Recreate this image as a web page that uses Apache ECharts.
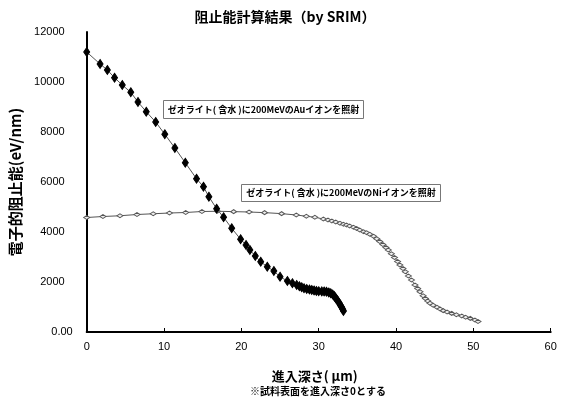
<!DOCTYPE html>
<html>
<head>
<meta charset="utf-8">
<script src="https://cdn.jsdelivr.net/npm/echarts@6/dist/echarts.min.js"></script>
<style>html,body{margin:0;padding:0;background:#fff}#c{width:561px;height:407px}</style>
</head>
<body>
<div id="c"></div>
<script>
// Data
const auDepth = [0, 1.73, 2.67, 3.6, 4.6, 5.7, 6.63, 7.7, 8.92, 10.1, 11.4, 12.75, 14.2, 15.1, 15.8, 16.8, 17.7, 18.75, 19.9, 20.6, 21.1, 21.8, 22.5, 23.35, 24.2, 25.0, 25.95, 26.6, 27.15, 27.5, 27.8, 28.1, 28.45, 28.8, 29.1, 29.4, 29.7, 30.0, 30.4, 30.7, 31.0, 31.3, 31.55, 31.8, 32.0, 32.15, 32.3, 32.5, 32.67, 32.8, 32.97, 33.1, 33.2];
const auStopping = [11200, 10720, 10480, 10170, 9880, 9590, 9200, 8810, 8400, 7910, 7360, 6770, 6130, 5810, 5410, 4930, 4590, 4150, 3710, 3480, 3280, 3040, 2810, 2610, 2440, 2210, 2040, 1950, 1880, 1830, 1790, 1750, 1720, 1700, 1680, 1660, 1640, 1630, 1625, 1620, 1610, 1580, 1550, 1500, 1440, 1380, 1310, 1230, 1150, 1070, 990, 910, 840];
const niDepth = [0, 2.1, 4.3, 6.5, 8.6, 10.7, 12.8, 14.9, 16.9, 19.0, 21.0, 23.0, 25.2, 27.1, 28.4, 29.5, 30.6, 31.2, 31.7, 32.2, 32.75, 33.2, 33.6, 34.0, 34.5, 34.9, 35.3, 35.8, 36.2, 36.6, 37.1, 37.5, 37.9, 38.3, 38.7, 39.0, 39.4, 39.8, 40.2, 40.5, 40.9, 41.2, 41.6, 42.0, 42.45, 42.8, 43.1, 43.5, 43.8, 44.1, 44.4, 44.8, 45.3, 45.7, 46.1, 46.6, 47.2, 47.8, 48.5, 49.0, 49.6, 50.2, 50.6];
const niStopping = [4580, 4620, 4650, 4700, 4730, 4760, 4780, 4820, 4830, 4815, 4800, 4775, 4735, 4680, 4630, 4590, 4520, 4480, 4440, 4400, 4350, 4310, 4280, 4240, 4190, 4140, 4080, 4010, 3970, 3910, 3830, 3730, 3620, 3500, 3380, 3280, 3130, 2980, 2820, 2680, 2540, 2410, 2240, 2080, 1880, 1740, 1610, 1450, 1340, 1240, 1150, 1070, 990, 920, 855, 800, 745, 690, 640, 590, 545, 480, 420];

const titleText = '阻止能計算結果（by SRIM）';
const xName = '進入深さ( μm)';
const xNote = '※試料表面を進入深さ0とする';
const yName = '電子的阻止能(eV/nm)';
const auLabel = 'ゼオライト( 含水 )に200MeVのAuイオンを照射';
const niLabel = 'ゼオライト( 含水 )に200MeVのNiイオンを照射';

const jp = '"Noto Sans CJK JP", sans-serif';
const num = '"Liberation Sans", Arial, sans-serif';

const chart = echarts.init(document.getElementById('c'), null, {renderer: 'canvas'});
chart.setOption({
  animation: false,
  backgroundColor: '#fff',
  title: {
    text: titleText, left: 280, top: 5, textAlign: 'center',
    textStyle: {fontFamily: jp, fontSize: 14, fontWeight: 'bold', color: '#000'}
  },
  grid: {left: 86.7, right: 10.3, top: 32, bottom: 75, containLabel: false},
  xAxis: {
    type: 'value', min: 0, max: 60, interval: 10,
    name: xName, nameLocation: 'middle', nameGap: 38,
    nameTextStyle: {fontFamily: jp, fontSize: 13, fontWeight: 'bold', color: '#000', padding: [0, 8, 0, 0]},
    axisLine: {show: true, onZero: false, lineStyle: {color: '#000', width: 2}},
    axisTick: {show: true, inside: true, length: 4, lineStyle: {color: '#000', width: 1}},
    axisLabel: {fontFamily: num, fontSize: 11, color: '#000', margin: 9},
    splitLine: {show: false}
  },
  yAxis: {
    type: 'value', min: 0, max: 12000, interval: 2000,
    name: yName, nameLocation: 'middle', nameGap: 61, nameRotate: 90,
    nameTextStyle: {fontFamily: jp, fontSize: 15, fontWeight: 'bold', color: '#000'},
    axisLine: {show: true, onZero: false, lineStyle: {color: '#000', width: 2}},
    axisTick: {show: false},
    axisLabel: {
      fontFamily: num, fontSize: 11, color: '#000', margin: 14,
      formatter: function (v) { return v === 0 ? '0.00' : '{p|' + v + '}'; },
      rich: {p: {fontFamily: num, fontSize: 11, color: '#000', padding: [0, 8, 0, 0]}}
    },
    splitLine: {show: false}
  },
  series: [
    {
      type: 'line', name: 'Au',
      data: auDepth.map((x, i) => [x, auStopping[i]]),
      symbol: 'diamond', symbolSize: [6, 9],
      itemStyle: {color: '#000', borderColor: '#000'},
      lineStyle: {color: '#555', width: 1},
      z: 3
    },
    {
      type: 'line', name: 'Ni',
      data: niDepth.map((x, i) => [x, niStopping[i]]),
      symbol: 'diamond', symbolSize: [6, 4],
      itemStyle: {color: '#eee', borderColor: '#555', borderWidth: 1},
      lineStyle: {color: '#555', width: 1},
      z: 2
    }
  ],
  graphic: [
    {
      type: 'text', left: 250, top: 386,
      style: {text: xNote, fontFamily: jp, fontSize: 10, fontWeight: 'bold', fill: '#000'}
    },
    {
      type: 'group', left: 163, top: 100,
      children: [
        {type: 'rect', shape: {x: 0, y: 0, width: 200, height: 18}, style: {fill: '#fff', stroke: '#777', lineWidth: 1}},
        {type: 'text', style: {x: 100, y: 9, text: auLabel, align: 'center', verticalAlign: 'middle', fontFamily: jp, fontSize: 9, fontWeight: 'bold', fill: '#000'}}
      ]
    },
    {
      type: 'group', left: 241, top: 184,
      children: [
        {type: 'rect', shape: {x: 0, y: 0, width: 199, height: 17}, style: {fill: '#fff', stroke: '#777', lineWidth: 1}},
        {type: 'text', style: {x: 99.5, y: 8.5, text: niLabel, align: 'center', verticalAlign: 'middle', fontFamily: jp, fontSize: 9, fontWeight: 'bold', fill: '#000'}}
      ]
    }
  ]
});
</script>
</body>
</html>
